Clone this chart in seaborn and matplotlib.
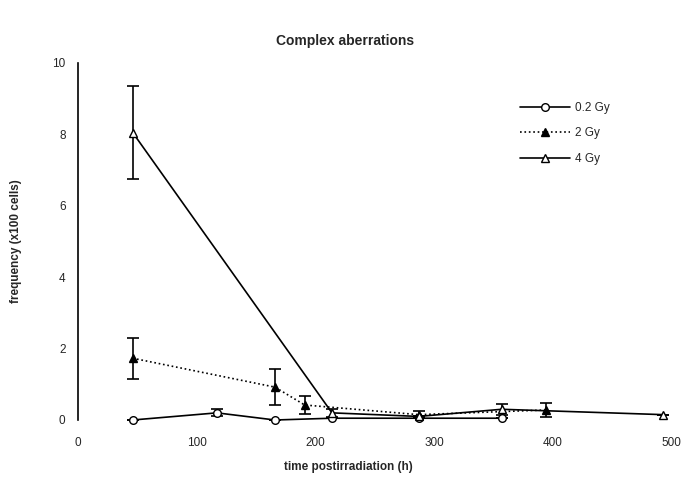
import pandas as pd
import matplotlib
matplotlib.use("Agg")
import matplotlib.pyplot as plt
import seaborn as sns

# Complex aberrations per 100 cells
time_02 = [46, 117, 166, 214, 287, 357]
freq_02 = [0.0, 0.2, 0.0, 0.05, 0.05, 0.05]
err_02 = [0.0, 0.1, 0.0, 0.0, 0.0, 0.0]

time_2 = [46, 166, 191, 287, 394]
freq_2 = [1.73, 0.92, 0.42, 0.15, 0.28]
err_2 = [0.58, 0.5, 0.25, 0.1, 0.2]

time_4 = [46, 214, 287, 357, 493]
freq_4 = [8.05, 0.2, 0.1, 0.3, 0.15]
err_4 = [1.3, 0.12, 0.0, 0.15, 0.0]

labels = ["0.2 Gy", "2 Gy", "4 Gy"]


def main():
    sns.set_style("white")
    plt.rcParams["font.family"] = ["Liberation Sans", "DejaVu Sans"]

    fig = plt.figure(figsize=(6.85, 4.8), dpi=100)
    ax = fig.add_axes([0.114, 0.125, 0.866, 0.744])

    series = [
        (time_02, freq_02, err_02, labels[0], "o", "white", "-"),
        (time_2, freq_2, err_2, labels[1], "^", "black", ":"),
        (time_4, freq_4, err_4, labels[2], "^", "white", "-"),
    ]
    for t, f, e, lab, mk, fc, ls in series:
        df = pd.DataFrame({"time": t, "freq": f})
        sns.lineplot(data=df, x="time", y="freq", ax=ax, color="black",
                     marker=mk, markersize=5.5, markerfacecolor=fc,
                     markeredgecolor="black", markeredgewidth=1.0,
                     linestyle=ls, linewidth=1.2, label=lab,
                     clip_on=False, zorder=3)
        ax.errorbar(t, f, yerr=e, fmt="none", ecolor="black",
                    elinewidth=1.2, capsize=4, capthick=1.2,
                    clip_on=False, zorder=2)

    ax.set_xlim(0, 500)
    ax.set_ylim(0, 10)
    ax.set_xticks(range(0, 501, 100))
    ax.set_yticks(range(0, 11, 2))
    ax.tick_params(axis="x", labelsize=8.5, length=0, pad=12)
    ax.tick_params(axis="y", labelsize=8.5, length=0, pad=9)

    fig.text(0.504, 0.915, "Complex aberrations", fontsize=10,
             weight="bold", ha="center", va="center")
    ax.set_xlabel("time postirradiation (h)", fontsize=8.5, weight="bold",
                  labelpad=10)
    ax.xaxis.set_label_coords(0.455, -0.115)
    ax.set_ylabel("frequency (x100 cells)", fontsize=8.5, weight="bold",
                  labelpad=22)

    sns.despine(ax=ax, top=True, right=True, bottom=True)
    ax.spines["left"].set_color("black")
    ax.spines["left"].set_linewidth(1.2)

    ax.legend(loc="upper right", bbox_to_anchor=(0.905, 0.81),
              bbox_transform=fig.transFigure, frameon=False,
              fontsize=8.5, handlelength=4.2, handletextpad=0.4,
              labelspacing=1.15)

    fig.savefig("out.png", dpi=100)


if __name__ == "__main__":
    main()
